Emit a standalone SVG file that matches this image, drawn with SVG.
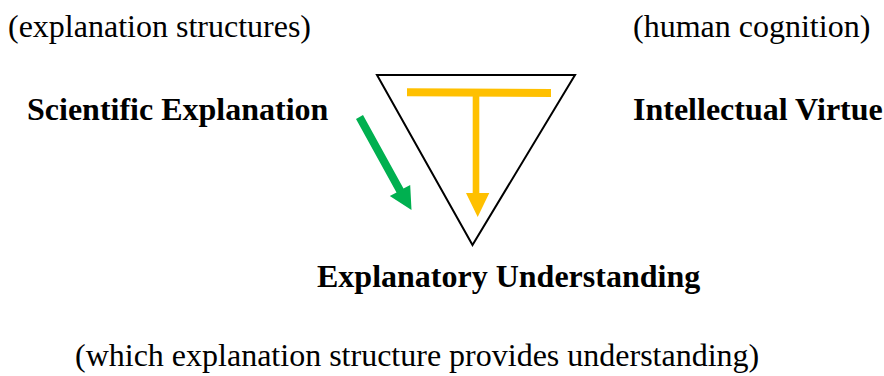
<svg xmlns="http://www.w3.org/2000/svg" width="884" height="376" viewBox="0 0 884 376">
<style>
text { font-family: "Liberation Serif", "Times New Roman", serif; font-size: 32px; fill: #000; }
.b { font-weight: bold; }
</style>
<rect width="884" height="376" fill="#fff"/>
<g id="node-explanation-structures"><text x="8" y="37">(explanation structures)</text></g>
<g id="node-human-cognition"><text x="633" y="37">(human cognition)</text></g>
<g id="node-scientific-explanation"><text class="b" x="27" y="120">Scientific Explanation</text></g>
<g id="node-intellectual-virtue"><text class="b" x="633" y="120">Intellectual Virtue</text></g>
<g id="node-explanatory-understanding"><text class="b" x="317" y="287">Explanatory Understanding</text></g>
<g id="node-which"><text x="75" y="366">(which explanation structure provides understanding)</text></g>
<g id="node-triangle"><polygon points="377,75 575,75 472.5,245" fill="none" stroke="#000" stroke-width="2" stroke-linejoin="miter"/></g>
<g id="connectors">
<line x1="407" y1="92.3" x2="551" y2="93" stroke="#FFC000" stroke-width="8"/>
<polygon points="472.7,96 479.3,96 479.3,193 489.3,193 477.7,217 466,193 472.7,193" fill="#FFC000"/>
<polygon points="363,115.1 403.5,188.6 410.2,184.9 411.5,210 389.8,196.1 396.5,192.4 356,118.9" fill="#00B050"/>
</g>
</svg>
